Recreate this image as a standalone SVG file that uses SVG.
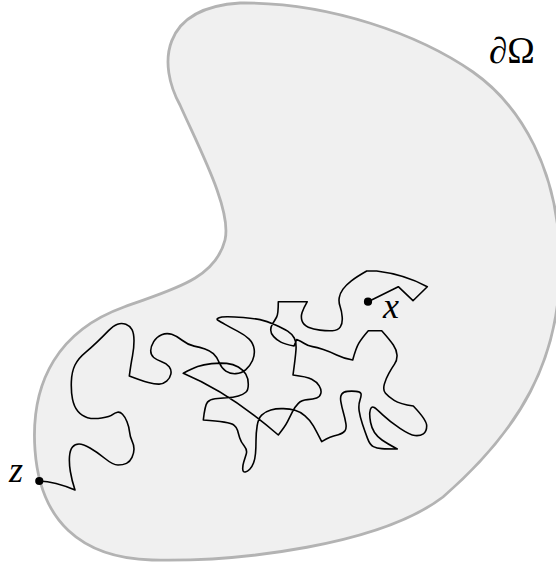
<svg xmlns="http://www.w3.org/2000/svg" width="556" height="567" viewBox="0 0 556 567">
<style>
.dom{fill:#f0f0f0;stroke:#b3b3b3;stroke-width:2.8}
.walk{fill:none;stroke:#000;stroke-width:1.6;stroke-linejoin:round;stroke-linecap:round}
.dot{fill:#000}
.lbl{font-family:"Liberation Serif","DejaVu Serif",serif;font-size:36px;fill:#000}
.big{font-size:37px}
.it{font-style:italic}
</style>
<rect width="556" height="567" fill="#fff"/>
<g id="domain">
<path class="dom" d="M 240 3 C 330 2, 420 35, 473 72 C 520 105, 560 170, 560 265 C 560 360, 520 430, 443 497 C 380 545, 240 562, 152 560 C 80 558, 40 520, 35 450 C 30 380, 60 330, 124 307 C 170 290, 215 280, 225 240 C 232 210, 200 150, 180 105 C 158 65, 160 8, 240 3 Z"/>
<text id="label-boundary" class="lbl big" x="489" y="63">∂Ω</text>
</g>
<g id="walk">
<path class="walk" d="M 39.3 481 Q 55 481.5 75 490
Q 71.7 480 70.35 471.5 Q 69 463 69.5 456.5 Q 70 450 72.5 447 Q 75 444 79 444 Q 83 444 90 448 Q 97 452 105 458.5 Q 113 465 118 465 Q 123 465 126.5 463.35 Q 130 461.7 132 457.35 Q 134 453 134 449 Q 134 445 132 440.85 Q 130 436.7 129.5 431.7 Q 129 426.7 127 421.7 Q 125 416.7 122.5 414.2 Q 120 411.7 117.5 412.2 Q 115 412.7 112.5 414.7 Q 110 416.7 101.65 418 Q 93.3 419.3 87.5 417.65 Q 81.7 416 77.85 411.35 Q 74 406.7 72.5 399.2 Q 71 391.7 71.35 381.7 Q 71.7 371.7 75 365 Q 78.3 358.3 85 352.8 Q 91.7 347.3 97.5 341.65 Q 103.3 336 108.3 330.85 Q 113.3 325.7 117.5 324.2 Q 121.7 322.7 125.85 324.35 Q 130 326 132 329.65 Q 134 333.3 134 340.8 Q 134 348.3 132.5 355.8 Q 131 363.3 129.3 376
Q 141.7 380.7 148.35 382.5 Q 155 384.3 159.15 384.15 Q 163.3 384 166.65 381.15 Q 170 378.3 170.85 374.15 Q 171.7 370 169.2 366.65 Q 166.7 363.3 161.7 361.65 Q 156.7 360 153.7 357.5 Q 150.7 355 150.7 350.85 Q 150.7 346.7 153.7 341.7 Q 156.7 336.7 161.7 334.7 Q 166.7 332.7 171.7 334.35 Q 176.7 336 182.5 340.5 Q 188.3 345 194.15 346.15 Q 200 347.3 205 349 Q 210 350.7 213.35 353.7 Q 216.7 356.7 219.2 362.5 Q 221.7 368.3 225.85 371.15 Q 230 374 235.85 373.65 Q 241.7 373.3 245.85 369.65 Q 250 366 252.5 360.5 Q 255 355 254.15 349.15 Q 253.3 343.3 249.15 339.15 Q 245 335 237.5 331.15 Q 230 327.3 225 324.4 Q 220 321.5 218 320.25 Q 216 319 218.5 317.9 Q 221 316.8 227.15 316.75 Q 233.3 316.7 243.3 317.5 Q 253.3 318.3 260 319.65 Q 266.7 321 275 324.65 Q 283.3 328.3 287.65 331.15 Q 292 334 294.25 338 Q 296.5 342 296 349.5 Q 295.5 357 293 375
Q 306.7 376.7 311.7 379.2 Q 316.7 381.7 319.2 385.85 Q 321.7 390 320.85 393.35 Q 320 396.7 316.65 398 Q 313.3 399.3 307.5 399.65 Q 301.7 400 298.35 403.35 Q 295 406.7 292.5 411.7 Q 290 416.7 287.5 421.7 Q 285 426.7 278.3 435
Q 230 393 183.3 373.3
Q 192 368.5 197.65 366.5 Q 203.3 364.5 211.65 363.6 Q 220 362.7 226.65 363.35 Q 233.3 364 238.3 367 Q 243.3 370 245.8 374.15 Q 248.3 378.3 248.3 384.15 Q 248.3 390 245.8 392.25 Q 243.3 394.5 238.3 395.9 Q 233.3 397.3 226.65 397.8 Q 220 398.3 215 398.8 Q 210 399.3 207.5 402.15 Q 205 405 203.3 420
Q 216.7 421 224.2 422.15 Q 231.7 423.3 234.2 425.3 Q 236.7 427.3 237.5 430.3 Q 238.3 433.3 239.65 437.65 Q 241 442 244.25 446 Q 247.5 450 246.25 454 Q 245 458 243.75 462 Q 242.5 466 242.75 469.25 Q 243 472.5 245.25 472 Q 247.5 471.5 249.75 469.25 Q 252 467 253.5 463 Q 255 459 255.5 453.5 Q 256 448 256 440.5 Q 256 433 257.15 425.75 Q 258.3 418.5 261.65 415.1 Q 265 411.7 270.85 410 Q 276.7 408.3 283.35 408.65 Q 290 409 295 410.35 Q 300 411.7 305 415.85 Q 310 420 313.35 425.85 Q 316.7 431.7 321.7 441.7
Q 326.7 438.3 330 437.15 Q 333.3 436 338.3 434.65 Q 343.3 433.3 345 430.8 Q 346.7 428.3 345.85 423.3 Q 345 418.3 343.35 412.5 Q 341.7 406.7 340.85 401.7 Q 340 396.7 341.65 394.2 Q 343.3 391.7 347.5 391.35 Q 351.7 391 355.85 391.35 Q 360 391.7 360.85 393.35 Q 361.7 395 360 400 Q 358.3 405 359.15 410.85 Q 360 416.7 362.5 424.2 Q 365 431.7 367.5 438.35 Q 370 445 373.35 446.65 Q 376.7 448.3 381.7 448.65 Q 386.7 449 397.3 449
Q 386.7 443.3 382 440 Q 377.3 436.7 374.5 432.5 Q 371.7 428.3 370.6 422.5 Q 369.5 416.7 369.75 412.85 Q 370 409 371.25 407.75 Q 372.5 406.5 374.25 407.5 Q 376 408.5 383 415.1 Q 390 421.7 400 428.35 Q 410 435 415 435.5 Q 420 436 423.35 433.85 Q 426.7 431.7 426.7 425.85 Q 426.7 420 413.3 406
Q 400 404 394.15 400.35 Q 388.3 396.7 385.5 393.35 Q 382.7 390 384.35 384.15 Q 386 378.3 388.85 373.3 Q 391.7 368.3 394.5 364.15 Q 397.3 360 397 355 Q 396.7 350 393.35 345 Q 390 340 381.7 330.7
L 368.3 330.7
Q 361.7 338.3 358.85 343.15 Q 356 348 352.7 360
Q 343.3 358.3 336.65 355 Q 330 351.7 323.35 349.5 Q 316.7 347.3 312.5 346.65 Q 308.3 346 304.4 343.5 Q 300.5 341 296.7 339.5
L 294 346
Q 285 344.3 280.85 342.15 Q 276.7 340 273.7 336.65 Q 270.7 333.3 270.7 330 Q 270.7 326.7 272.85 323.35 Q 275 320 276.65 317 Q 278.3 314 278.3 301.7
L 307.3 301.7
Q 303.5 308.3 302.1 312.5 Q 300.7 316.7 302 320.85 Q 303.3 325 308.3 327.15 Q 313.3 329.3 320 330.15 Q 326.7 331 332.35 330.75 Q 338 330.5 340.35 326.9 Q 342.7 323.3 342.2 317.15 Q 341.7 311 340.1 306.5 Q 338.5 302 339.25 297.65 Q 340 293.3 343 289.15 Q 346 285 351.35 280.85 Q 356.7 276.7 366.7 271
L 376.7 271 Q 405 274.5 427.3 286.7 L 413 300.7 L 398.3 286.7 L 368 301.7"/>
</g>
<g id="point-x">
<circle class="dot" cx="368" cy="301.7" r="4.1"/>
<text class="lbl it" x="383" y="317.5">x</text>
</g>
<g id="point-z">
<circle class="dot" cx="39.3" cy="481" r="4.1"/>
<text class="lbl it" x="9" y="481.5">z</text>
</g>
</svg>
